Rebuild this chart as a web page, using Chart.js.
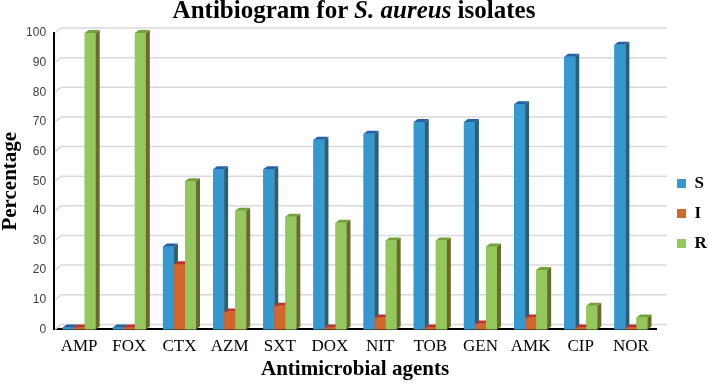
<!DOCTYPE html>
<html>
<head>
<meta charset="utf-8">
<script src="https://cdn.jsdelivr.net/npm/chart.js@4.4.1/dist/chart.umd.min.js"></script>
<style>
  body { margin: 0; background: #fff; }
  #wrap { position: relative; width: 708px; height: 384px; }
  #title {
    position: absolute; left: 0; top: -4px; width: 708px; text-align: center;
    font: bold 25px "Liberation Serif", "Times New Roman", serif; line-height: 28px; color: #000;
  }
</style>
</head>
<body>
<div id="wrap">
  <div id="title">Antibiogram for <i>S. aureus</i> isolates</div>
  <canvas id="antibiogram" width="708" height="384"></canvas>
</div>
<script>
// values (percent of isolates)
const agents = ['AMP', 'FOX', 'CTX', 'AZM', 'SXT', 'DOX', 'NIT', 'TOB', 'GEN', 'AMK', 'CIP', 'NOR'];
const sValues = [0, 0, 28, 54, 54, 64, 66, 70, 70, 76, 92, 96];
const iValues = [0, 0, 22, 6, 8, 0, 4, 0, 2, 4, 0, 0];
const rValues = [100, 100, 50, 40, 38, 36, 30, 30, 28, 20, 8, 4];
const seriesNames = ['S', 'I', 'R'];
const yMax = 100;
const yStep = 10;

// front / side / top colours for the fake 3D look
const faces = [
    { front: '#3598d0', side: '#2b6073', top: '#2462a6' },
    { front: '#d2672e', side: '#a8382c', top: '#c0322b' },
    { front: '#94c85c', side: '#6a6a2c', top: '#70a33a' },
];

const depthX = 4, depthY = 3;

// back wall gridlines, shifted up/right like the excel 3D chart
const wallGrid = {
    id: 'wallGrid',
    beforeDatasetsDraw(chart) {
        const { ctx, chartArea, scales } = chart;
        ctx.save();
        ctx.strokeStyle = '#d9d9d9';
        ctx.lineWidth = 1.5;
        for (let v = 0; v <= yMax; v += yStep) {
            const y = scales.y.getPixelForValue(v);
            ctx.beginPath();
            ctx.moveTo(chartArea.left + 1, y);
            ctx.lineTo(chartArea.left + 7, y - 5);
            ctx.lineTo(chartArea.right + 11, y - 5);
            ctx.stroke();
        }
        ctx.restore();
    }
};

// side and top faces of each bar
const barDepth = {
    id: 'barDepth',
    afterDatasetsDraw(chart) {
        const ctx = chart.ctx;
        ctx.save();
        for (let j = 0; j < agents.length; j++) {
            for (let i = 0; i < seriesNames.length; i++) {
                const el = chart.getDatasetMeta(i).data[j];
                const l = el.x - el.width / 2, r = el.x + el.width / 2;
                const t = el.y, b = el.base;
                ctx.fillStyle = faces[i].front;
                ctx.fillRect(l, t, r - l, b - t);
                ctx.fillStyle = faces[i].side;
                ctx.beginPath();
                ctx.moveTo(r, t); ctx.lineTo(r + depthX, t - depthY);
                ctx.lineTo(r + depthX, b - depthY); ctx.lineTo(r, b);
                ctx.closePath(); ctx.fill();
                ctx.fillStyle = faces[i].top;
                ctx.beginPath();
                ctx.moveTo(l, t); ctx.lineTo(l + depthX, t - depthY);
                ctx.lineTo(r + depthX, t - depthY); ctx.lineTo(r, t);
                ctx.closePath(); ctx.fill();
            }
        }
        ctx.restore();
    }
};

// put the legend where the reference has it
const legendSpot = {
    id: 'legendSpot',
    afterLayout(chart) {
        const lg = chart.legend;
        const w = lg.width, h = lg.height;
        lg.left = 664; lg.right = lg.left + w;
        lg.top = 162; lg.bottom = lg.top + h;
    }
};

const chartData = {
    labels: agents,
    datasets: [
        { label: seriesNames[0], data: sValues, backgroundColor: faces[0].front },
        { label: seriesNames[1], data: iValues, backgroundColor: faces[1].front },
        { label: seriesNames[2], data: rValues, backgroundColor: faces[2].front },
    ],
};

const canvas = document.getElementById('antibiogram');

new Chart(canvas, {
    type: 'bar',
    data: chartData,
    plugins: [wallGrid, barDepth, legendSpot],
    options: {
        responsive: false,
        animation: false,
        events: [],
        layout: { padding: { top: 33, left: 0, right: 0, bottom: 0 } },
        datasets: {
            bar: { categoryPercentage: 0.66, barPercentage: 1.0, minBarLength: 2, borderWidth: 0 }
        },
        plugins: {
            title: { display: false },
            tooltip: { enabled: false },
            legend: {
                position: 'right',
                align: 'start',
                maxWidth: 52,
                labels: {
                    boxWidth: 9,
                    boxHeight: 9,
                    padding: 13,
                    color: '#000',
                    font: { family: '"Liberation Serif", serif', size: 17, weight: 'bold' }
                }
            }
        },
        scales: {
            x: {
                grid: { display: false, drawTicks: false },
                border: { display: true, color: '#000', width: 2 },
                ticks: {
                    color: '#000',
                    padding: 7,
                    autoSkip: false,
                    maxRotation: 0,
                    font: { family: '"Liberation Serif", serif', size: 17 }
                },
                title: {
                    display: true,
                    text: 'Antimicrobial agents',
                    color: '#000',
                    padding: { top: -7, bottom: 2 },
                    font: { family: '"Liberation Serif", serif', size: 21, weight: 'bold' }
                }
            },
            y: {
                min: 0,
                max: yMax,
                grid: { display: false, drawTicks: false },
                border: { display: true, color: '#000', width: 2 },
                ticks: {
                    stepSize: yStep,
                    color: '#404040',
                    padding: 8,
                    font: { family: '"Liberation Sans", sans-serif', size: 12 }
                },
                title: {
                    display: true,
                    text: 'Percentage',
                    color: '#000',
                    padding: { top: 0, bottom: -4 },
                    font: { family: '"Liberation Serif", serif', size: 21, weight: 'bold', lineHeight: 1.05 }
                }
            }
        }
    }
});
</script>
</body>
</html>
